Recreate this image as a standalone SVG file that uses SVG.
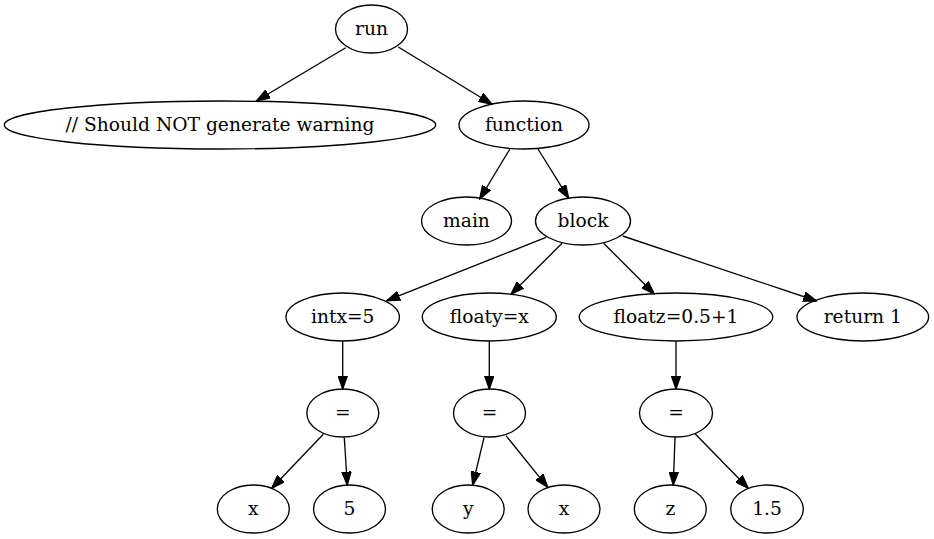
<svg xmlns="http://www.w3.org/2000/svg" width="934" height="539" viewBox="0 0 934 539">
  <style>
    .node ellipse { fill: none; stroke: #000; stroke-width: 1.33; }
    .node text { font-family: "DejaVu Serif", "Liberation Serif", serif; font-size: 18.67px; text-anchor: middle; fill: #000; }
    #edges line { stroke: #000; stroke-width: 1.33; marker-end: url(#arrow); }
  </style>
  <defs>
    <marker id="arrow" viewBox="0 -5 14 10" markerWidth="14" markerHeight="10" refX="13.33" refY="0" orient="auto" markerUnits="userSpaceOnUse">
      <path d="M0,-4.67 L13.33,0 L0,4.67 Z" fill="#000" stroke="#000" stroke-width="1.33"/>
    </marker>
  </defs>
  <rect width="934" height="539" fill="#fff"/>

  <g id="edges">
    <line x1="345.7" y1="47.7" x2="256.7" y2="100.7"/>
    <line x1="398.3" y1="47" x2="492" y2="104.3"/>
    <line x1="509.7" y1="149.3" x2="479.7" y2="199"/>
    <line x1="538" y1="149" x2="568.7" y2="198.3"/>
    <line x1="546" y1="237.3" x2="386.7" y2="300.7"/>
    <line x1="562" y1="243.3" x2="511" y2="294.3"/>
    <line x1="603.7" y1="243.3" x2="654.3" y2="294"/>
    <line x1="622.7" y1="236" x2="816.7" y2="301"/>
    <line x1="342.7" y1="341" x2="342.7" y2="389"/>
    <line x1="489.3" y1="341" x2="489.3" y2="389"/>
    <line x1="676" y1="341" x2="676" y2="389"/>
    <line x1="323.3" y1="434.3" x2="271.7" y2="488.3"/>
    <line x1="344.3" y1="437.7" x2="347.3" y2="485"/>
    <line x1="484" y1="437.7" x2="472.7" y2="485"/>
    <line x1="506" y1="435.7" x2="547.7" y2="487.3"/>
    <line x1="675" y1="437.3" x2="673.3" y2="485"/>
    <line x1="695.3" y1="434" x2="748.3" y2="488.3"/>
  </g>

  <g id="run" class="node"><ellipse cx="371.5" cy="29" rx="36" ry="24"/><text x="371.5" y="34.7">run</text></g>
  <g id="comment" class="node"><ellipse cx="220" cy="125" rx="215.7" ry="24"/><text x="220" y="130.7">// Should NOT generate warning</text></g>
  <g id="function" class="node"><ellipse cx="524" cy="125" rx="65" ry="24"/><text x="524" y="130.7">function</text></g>
  <g id="main" class="node"><ellipse cx="466.5" cy="221" rx="45" ry="24"/><text x="466.5" y="226.7">main</text></g>
  <g id="block" class="node"><ellipse cx="583" cy="221" rx="47.5" ry="24"/><text x="583" y="226.7">block</text></g>
  <g id="intx" class="node"><ellipse cx="342.7" cy="317" rx="56.7" ry="24"/><text x="342.7" y="322.7">intx=5</text></g>
  <g id="floaty" class="node"><ellipse cx="489.3" cy="317" rx="67" ry="24"/><text x="489.3" y="322.7">floaty=x</text></g>
  <g id="floatz" class="node"><ellipse cx="676" cy="317" rx="96.8" ry="24"/><text x="676" y="322.7">floatz=0.5+1</text></g>
  <g id="return" class="node"><ellipse cx="862.8" cy="317" rx="65.8" ry="24"/><text x="862.8" y="322.7">return 1</text></g>
  <g id="assign1" class="node"><ellipse cx="342.8" cy="413" rx="36" ry="24"/><text x="342.8" y="418.7">=</text></g>
  <g id="assign2" class="node"><ellipse cx="489.5" cy="413" rx="36" ry="24"/><text x="489.5" y="418.7">=</text></g>
  <g id="assign3" class="node"><ellipse cx="676" cy="413" rx="36.5" ry="24"/><text x="676" y="418.7">=</text></g>
  <g id="x1" class="node"><ellipse cx="253.3" cy="509" rx="36" ry="24"/><text x="253.3" y="514.7">x</text></g>
  <g id="five" class="node"><ellipse cx="349.5" cy="509" rx="36" ry="24"/><text x="349.5" y="514.7">5</text></g>
  <g id="y" class="node"><ellipse cx="468.2" cy="509" rx="36" ry="24"/><text x="468.2" y="514.7">y</text></g>
  <g id="x2" class="node"><ellipse cx="564" cy="509" rx="36" ry="24"/><text x="564" y="514.7">x</text></g>
  <g id="z" class="node"><ellipse cx="670.3" cy="509" rx="36" ry="24"/><text x="670.3" y="514.7">z</text></g>
  <g id="onefive" class="node"><ellipse cx="767" cy="509" rx="36.3" ry="24"/><text x="767" y="514.7">1.5</text></g>
</svg>
